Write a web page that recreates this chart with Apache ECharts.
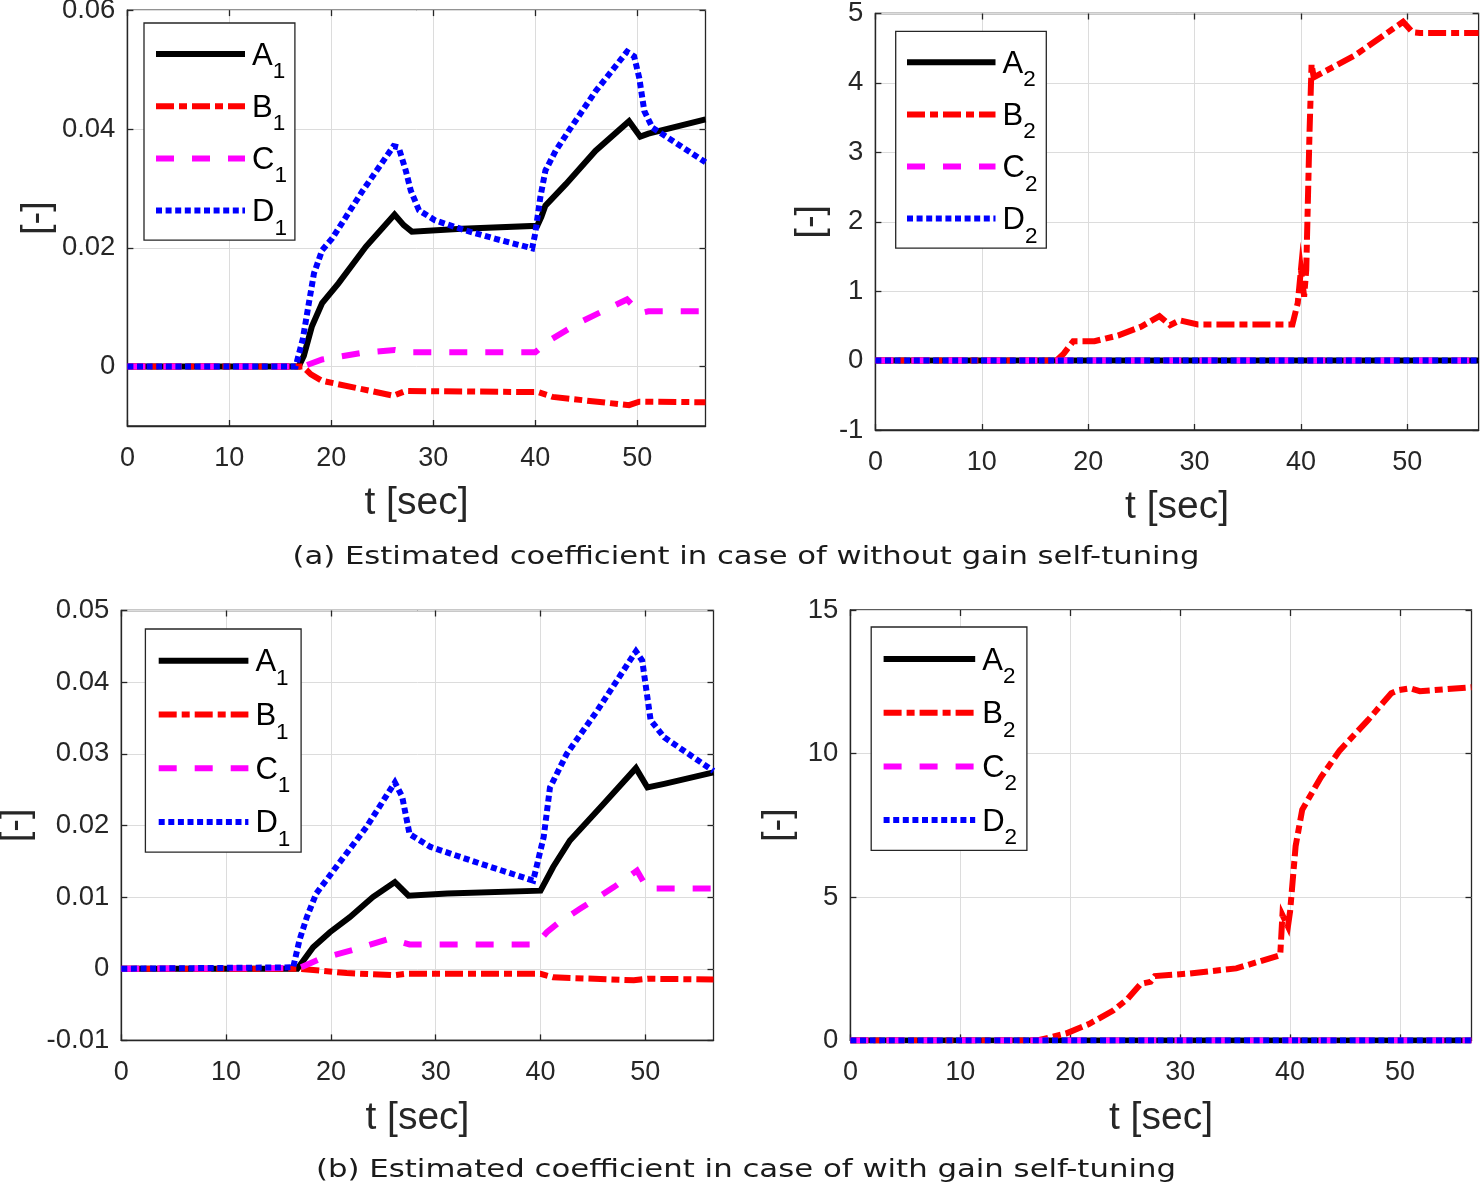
<!DOCTYPE html>
<html><head><meta charset="utf-8">
<script src="https://cdn.jsdelivr.net/npm/echarts@6/dist/echarts.min.js"></script>
<style>html,body{margin:0;padding:0;background:#fff}#c{width:1480px;height:1188px}</style>
</head><body><div id="c"></div>
<script>
// ---------- tick labels / names ----------
const xTicks = [0, 10, 20, 30, 40, 50];
const yTicksTopLeft = [0, 0.02, 0.04, 0.06];
const yTicksTopRight = [-1, 0, 1, 2, 3, 4, 5];
const yTicksBottomLeft = [-0.01, 0, 0.01, 0.02, 0.03, 0.04, 0.05];
const yTicksBottomRight = [0, 5, 10, 15];
const names1 = ['A1', 'B1', 'C1', 'D1'];
const names2 = ['A2', 'B2', 'C2', 'D2'];
const xName = 't [sec]';
const yName = '[-]';
const captionA = '(a) Estimated coefficient in case of without gain self-tuning';
const captionB = '(b) Estimated coefficient in case of with gain self-tuning';

// ---------- (a) without gain self-tuning : coefficient 1 ----------
const a1_noTune = [[0,0],[16.8,0],[17.3,0.0018],[18.1,0.0068],[19.1,0.0107],[20.7,0.0140],[23.4,0.0202],[26.2,0.0256],[27.1,0.0238],[27.9,0.0227],[32.8,0.0232],[40.2,0.0237],[40.6,0.0252],[41.0,0.0271],[43.0,0.0307],[45.9,0.0363],[49.2,0.0413],[50.3,0.0387],[51.1,0.0392],[56.7,0.0416]];
const b1_noTune = [[0,0],[17.2,0],[18.0,-0.0013],[19.1,-0.0024],[23.0,-0.0038],[26.1,-0.0049],[27.3,-0.0041],[40.3,-0.0043],[41.7,-0.0051],[49.2,-0.0065],[50.2,-0.0059],[56.7,-0.0060]];
const c1_noTune = [[0,0],[17.2,0],[19.1,0.0012],[23.0,0.0023],[26.2,0.0028],[27.8,0.0024],[40.0,0.0024],[41.3,0.0043],[44.3,0.0074],[49.0,0.0113],[50.3,0.0090],[51.1,0.0093],[56.7,0.0093]];
const d1_noTune = [[0,0],[16.5,0],[17.2,0.0046],[17.8,0.0107],[18.3,0.0157],[19.1,0.0196],[20.1,0.0216],[23.0,0.0294],[26.1,0.0371],[26.6,0.0369],[27.3,0.0330],[27.8,0.0296],[28.6,0.0263],[30.2,0.0246],[33.2,0.0229],[36.1,0.0215],[39.7,0.0199],[40.0,0.0224],[40.5,0.0285],[41.0,0.0330],[42.0,0.0363],[43.3,0.0397],[45.9,0.0463],[49.0,0.0530],[49.7,0.0522],[50.2,0.0486],[50.7,0.0430],[51.5,0.0402],[56.7,0.0344]];

// ---------- (a) without gain self-tuning : coefficient 2 ----------
const a2_noTune = [[0,0],[56.7,0]];
const b2_noTune = [[0,0],[17.0,0],[17.7,0.10],[18.6,0.28],[20.6,0.28],[22.8,0.36],[25.0,0.49],[26.7,0.64],[27.7,0.51],[28.6,0.58],[30.3,0.52],[39.2,0.52],[39.7,0.83],[40.0,1.31],[40.3,0.92],[40.5,1.31],[40.8,3.25],[41.0,4.27],[41.2,4.08],[45.0,4.39],[49.6,4.88],[50.5,4.73],[51.2,4.72],[56.7,4.72]];
const c2_noTune = [[0,0],[56.7,0]];
const d2_noTune = [[0,0],[56.7,0]];

// ---------- (b) with gain self-tuning : coefficient 1 ----------
const a1_tune = [[0,0],[16.8,0],[18.3,0.0030],[19.9,0.0051],[21.8,0.0072],[24.0,0.0100],[26.1,0.0121],[27.4,0.0102],[31.1,0.0105],[40.0,0.0109],[41.2,0.0142],[42.8,0.0179],[46.0,0.0230],[49.1,0.0280],[50.2,0.0253],[51.8,0.0258],[56.5,0.0274]];
const b1_tune = [[0,0],[17.0,0],[21.5,-0.0006],[26.0,-0.0009],[27.2,-0.0007],[40.0,-0.0007],[41.2,-0.0012],[48.9,-0.0016],[50.2,-0.0014],[56.5,-0.0015]];
const c1_tune = [[0,0],[17.0,0.0001],[19.0,0.0014],[22.5,0.0028],[25.6,0.0042],[27.5,0.0034],[39.6,0.0034],[40.6,0.0051],[41.6,0.0063],[43.8,0.0084],[47.0,0.0114],[49.2,0.0137],[50.2,0.0112],[56.5,0.0112]];
const d1_tune = [[0,0],[16.4,0.0002],[17.0,0.0040],[17.7,0.0072],[18.6,0.0105],[20.5,0.0142],[23.4,0.0198],[26.1,0.0260],[26.8,0.0240],[27.5,0.0188],[29.5,0.0170],[34.2,0.0147],[39.3,0.0123],[40.3,0.0184],[40.9,0.0253],[42.5,0.0300],[45.4,0.0360],[49.1,0.0443],[49.7,0.0430],[50.5,0.0347],[51.8,0.0323],[56.5,0.0276]];

// ---------- (b) with gain self-tuning : coefficient 2 ----------
const a2_tune = [[0,0],[56.5,0]];
const b2_tune = [[0,0],[17.0,0],[19.6,0.24],[21.7,0.57],[23.9,1.04],[25.2,1.44],[26.4,1.97],[27.3,2.04],[27.7,2.24],[30.8,2.33],[35.1,2.51],[39.1,2.97],[39.3,4.37],[39.8,3.97],[40.0,4.5],[40.5,6.77],[41.1,8.04],[42.8,9.17],[44.5,10.1],[47.1,11.17],[49.2,12.1],[49.9,12.21],[50.9,12.27],[51.8,12.17],[56.5,12.31]];
const c2_tune = [[0,0],[56.5,0]];
const d2_tune = [[0,0],[56.5,0]];

// ---------- styles ----------
const FONT = '"Liberation Sans", Arial, Helvetica, sans-serif';
const CAP_FONT_FAMILY = '"DejaVu Sans", "Noto Sans", sans-serif';
const AX = '#262626';
const LW = 6;
const lineStyles = [
  { color: '#000000', type: 'solid' },
  { color: '#ff0000', type: [18, 5, 8, 5] },
  { color: '#ff00ff', type: [18, 18] },
  { color: '#0000ff', type: [6, 3.6] }
];

const plots = [
  { names: names1, data: [a1_noTune, b1_noTune, c1_noTune, d1_noTune], xMax: 56.7, yMin: -0.01, yMax: 0.06, yTicks: yTicksTopLeft,
    grid: { left: 127.4, top: 10.1, width: 578.1, height: 415.9 },
    leg: { L: 144, T: 23, R: 293, B: 240.5, S: 52.3, F: 30, IL: 153, IW: 89 }, xGap: 58, yGap: 71, xMargin: 19 },
  { names: names2, data: [a2_noTune, b2_noTune, c2_noTune, d2_noTune], xMax: 56.7, yMin: -1, yMax: 5, yTicks: yTicksTopRight,
    grid: { left: 875.4, top: 13.5, width: 603.2, height: 416.5 },
    leg: { L: 895.7, T: 31.3, R: 1044.4, B: 248.5, S: 52.2, F: 30, IL: 904, IW: 88.5 }, xGap: 58, yGap: 45, xMargin: 19 },
  { names: names1, data: [a1_tune, b1_tune, c1_tune, d1_tune], xMax: 56.5, yMin: -0.01, yMax: 0.05, yTicks: yTicksBottomLeft,
    grid: { left: 121.3, top: 610.5, width: 592.2, height: 429.9 },
    leg: { L: 145.4, T: 629, R: 299.2, B: 852.6, S: 53.8, F: 30.8, IL: 155.7, IW: 89.7 }, xGap: 58, yGap: 86, xMargin: 19 },
  { names: names2, data: [a2_tune, b2_tune, c2_tune, d2_tune], xMax: 56.5, yMin: 0, yMax: 15, yTicks: yTicksBottomRight,
    grid: { left: 850.4, top: 610, width: 621.1, height: 430.4 },
    leg: { L: 871.2, T: 627, R: 1025, B: 850.7, S: 53.8, F: 31, IL: 880.6, IW: 91.6 }, xGap: 58, yGap: 53, xMargin: 19 }
];

const fmt = v => String(parseFloat(Number(v).toFixed(6)));
const ITEM_H = 44.4, ICON_OFF = 14.0, TEXT_W = 36;

const grids = [], xAxes = [], yAxes = [], series = [], legends = [];
plots.forEach((p, i) => {
  grids.push(Object.assign({ show: true, borderColor: AX, borderWidth: 1.3, backgroundColor: 'transparent', containLabel: false, outerBoundsMode: 'none' }, p.grid));
  const tick = vals => ({ show: true, inside: true, length: 6, customValues: vals, lineStyle: { color: AX, width: 1.3 } });
  xAxes.push({
    type: 'value', gridIndex: i, position: 'bottom', min: 0, max: p.xMax,
    axisLine: { show: true, onZero: false, lineStyle: { color: AX, width: 1.3 } },
    axisTick: tick(xTicks),
    axisLabel: { customValues: xTicks, margin: p.xMargin, fontSize: 27, color: AX, fontFamily: FONT, formatter: fmt },
    splitLine: { show: true, lineStyle: { color: '#dcdcdc', width: 1 } },
    name: xName, nameLocation: 'middle', nameGap: p.xGap,
    nameTextStyle: { fontSize: 39, color: AX, fontFamily: FONT }
  });
  xAxes.push({
    type: 'value', gridIndex: i, position: 'top', min: 0, max: p.xMax,
    axisLine: { show: false, onZero: false }, axisTick: tick(xTicks),
    axisLabel: { show: false }, splitLine: { show: false }
  });
  yAxes.push({
    type: 'value', gridIndex: i, position: 'left', min: p.yMin, max: p.yMax,
    axisLine: { show: true, onZero: false, lineStyle: { color: AX, width: 1.3 } },
    axisTick: tick(p.yTicks),
    axisLabel: { customValues: p.yTicks, margin: 12, fontSize: 27.5, color: AX, fontFamily: FONT, formatter: fmt },
    splitLine: { show: true, lineStyle: { color: '#dcdcdc', width: 1 } },
    name: yName, nameLocation: 'middle', nameGap: p.yGap,
    nameTextStyle: { fontSize: 38, color: AX, fontFamily: FONT }
  });
  yAxes.push({
    type: 'value', gridIndex: i, position: 'right', min: p.yMin, max: p.yMax,
    axisLine: { show: false, onZero: false }, axisTick: tick(p.yTicks),
    axisLabel: { show: false }, splitLine: { show: false }
  });
  p.names.forEach((nm, k) => {
    series.push({
      type: 'line', name: nm, xAxisIndex: 2 * i, yAxisIndex: 2 * i,
      data: p.data[k], symbol: 'none', showSymbol: false, smooth: false, clip: true,
      lineStyle: { color: lineStyles[k].color, type: lineStyles[k].type, width: LW, cap: 'butt', join: 'miter' },
      itemStyle: { color: lineStyles[k].color },
      emphasis: { disabled: true }, silent: true, animation: false, z: 2 + k
    });
  });
  const g = p.leg;
  const padTop = g.F - ICON_OFF;
  const gap = g.S - ITEM_H;
  const padLeft = g.IL - g.L;
  const padRight = Math.max(2, (g.R - g.L) - padLeft - g.IW - 7 - TEXT_W);
  const padBottom = Math.max(0, (g.B - g.T) - padTop - 4 * ITEM_H - 3 * gap);
  legends.push({
    show: true, data: p.names, orient: 'vertical', left: g.L, top: g.T,
    padding: [padTop, padRight, padBottom, padLeft], itemGap: gap,
    itemWidth: g.IW, itemHeight: 14, selectedMode: false,
    backgroundColor: '#ffffff', borderColor: AX, borderWidth: 1.3, borderRadius: 0,
    itemStyle: { opacity: 0, borderWidth: 0 },
    lineStyle: { width: LW, cap: 'butt' },
    formatter: nm => '{m|' + nm.charAt(0) + '}{s|' + nm.slice(1) + '}',
    textStyle: {
      color: '#000', fontFamily: FONT,
      rich: {
        m: { fontSize: 31, lineHeight: 30, padding: [1.5, 0, 0, 2], verticalAlign: 'top', fontFamily: FONT, color: '#000' },
        s: { fontSize: 22.5, lineHeight: 22, padding: [21.3, 0, 0, 0], verticalAlign: 'top', fontFamily: FONT, color: '#000' }
      }
    }
  });
});

// caption width fitting (reference captions span ~907 px and ~860 px)
const CAP_SIZE = 24.5;
function capScale(text, target) {
  const ctx = document.createElement('canvas').getContext('2d');
  ctx.font = CAP_SIZE + 'px ' + CAP_FONT_FAMILY;
  const w = ctx.measureText(text).width;
  return w > 0 ? target / w : 1;
}

const chart = echarts.init(document.getElementById('c'), null, { renderer: 'canvas' });
chart.setOption({
  backgroundColor: '#ffffff',
  animation: false,
  grid: grids, xAxis: xAxes, yAxis: yAxes, series: series, legend: legends,
  graphic: [
    { type: 'text', x: 746, y: 558, silent: true, scaleX: capScale(captionA, 907),
      style: { text: captionA, fill: '#1a1a1a', font: CAP_SIZE + 'px ' + CAP_FONT_FAMILY, textAlign: 'center', textVerticalAlign: 'middle' } },
    { type: 'text', x: 746, y: 1171, silent: true, scaleX: capScale(captionB, 860),
      style: { text: captionB, fill: '#1a1a1a', font: CAP_SIZE + 'px ' + CAP_FONT_FAMILY, textAlign: 'center', textVerticalAlign: 'middle' } }
  ]
});
</script>
</body></html>
